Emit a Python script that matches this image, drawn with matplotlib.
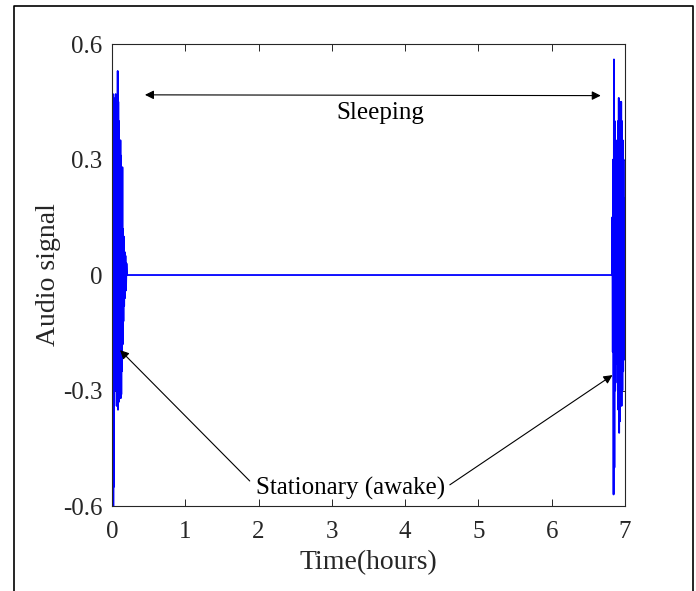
import matplotlib
matplotlib.use('Agg')
import matplotlib.pyplot as plt
from matplotlib.lines import Line2D

plt.rcParams['font.family'] = ['Liberation Serif', 'DejaVu Serif']

# audio signal: a burst at the start, silence, a burst at the end
t_start = [0.0, 0.004, 0.008, 0.014, 0.018, 0.023, 0.027, 0.033, 0.037, 0.041, 0.045,
           0.050, 0.055, 0.060, 0.064, 0.068, 0.072, 0.078, 0.082, 0.086, 0.091,
           0.095, 0.100, 0.105, 0.109, 0.115, 0.119, 0.123, 0.127, 0.132, 0.136,
           0.142, 0.146, 0.150, 0.156, 0.161, 0.166, 0.172, 0.177, 0.184, 0.191,
           0.198, 0.205]
y_start = [0.0, 0.40, -0.45, 0.47, -0.62, 0.46, -0.55, 0.30, -0.28, 0.38, -0.20,
           0.47, -0.30, 0.20, -0.34, 0.35, -0.25, 0.53, -0.35, 0.45, -0.33,
           0.40, -0.30, 0.25, -0.28, 0.35, -0.32, 0.31, -0.31, 0.20, -0.25,
           0.28, -0.18, 0.12, -0.12, 0.10, -0.08, 0.06, -0.06, 0.05, -0.04,
           0.03, 0.0]

t_end = [6.823, 6.828, 6.834, 6.839, 6.845, 6.850, 6.856, 6.861, 6.867, 6.872,
         6.878, 6.883, 6.888, 6.894, 6.899, 6.905, 6.910, 6.916, 6.921, 6.927,
         6.932, 6.938, 6.943, 6.949, 6.954, 6.959, 6.965, 6.970, 6.976, 6.981,
         6.987, 6.992, 6.998, 7.000]
y_end = [0.0, 0.15, -0.20, 0.30, -0.57, 0.56, -0.50, 0.40, -0.30, 0.25,
         -0.23, 0.20, -0.22, 0.35, -0.28, 0.40, -0.35, 0.46, -0.41, 0.45,
         -0.38, 0.44, -0.30, 0.45, -0.34, 0.40, -0.30, 0.35, -0.25, 0.30,
         -0.22, 0.20, -0.15, 0.10]

time = t_start + t_end
signal = y_start + y_end

xticks = [0, 1, 2, 3, 4, 5, 6, 7]
yticks = [-0.6, -0.3, 0, 0.3, 0.6]
ytick_labels = ['-0.6', '-0.3', '0', '0.3', '0.6']

fig = plt.figure(figsize=(6.96, 5.91), dpi=100)
ax = fig.add_axes([0.1609, 0.1438, 0.737, 0.7817])

ax.plot(time, signal, color='blue', linewidth=1.3)

ax.set_xlim(0, 7)
ax.set_ylim(-0.6, 0.6)
ax.set_xticks(xticks)
ax.set_yticks(yticks)
ax.set_yticklabels(ytick_labels)
ax.tick_params(direction='in', length=5, width=0.7, top=True, right=True,
               labelsize=18, colors='#262626')
ax.tick_params(axis='x', pad=11)
ax.tick_params(axis='y', pad=7)
for s in ax.spines.values():
    s.set_color('#262626')
    s.set_linewidth(0.8)

ax.set_xlabel('Time(hours)', fontsize=20, color='#262626', labelpad=5)
ax.set_ylabel('Audio signal', fontsize=20, color='#262626', labelpad=1)

# annotations
ax.annotate('', xy=(0.45, 0.468), xytext=(6.67, 0.466),
            arrowprops=dict(arrowstyle='<|-|>', color='black', lw=0.8,
                            mutation_scale=13, shrinkA=0, shrinkB=0))
ax.text(3.66, 0.42, 'Sleeping', fontsize=18, ha='center', va='center', color='black')

ax.text(3.26, -0.555, 'Stationary (awake)', fontsize=18, ha='center', va='center',
        color='black')
ax.annotate('', xy=(0.11, -0.195), xytext=(1.88, -0.535),
            arrowprops=dict(arrowstyle='-|>', color='black', lw=0.8,
                            mutation_scale=13, shrinkA=0, shrinkB=0))
ax.annotate('', xy=(6.83, -0.26), xytext=(4.61, -0.545),
            arrowprops=dict(arrowstyle='-|>', color='black', lw=0.8,
                            mutation_scale=13, shrinkA=0, shrinkB=0))

# outer frame (bottom edge falls outside the image)
fig.add_artist(Line2D([0.0201, 0.0201, 0.9957, 0.9957], [-0.01, 0.9898, 0.9898, -0.01],
                      transform=fig.transFigure, color='black', linewidth=1.2))

fig.savefig('out.png', dpi=100)
